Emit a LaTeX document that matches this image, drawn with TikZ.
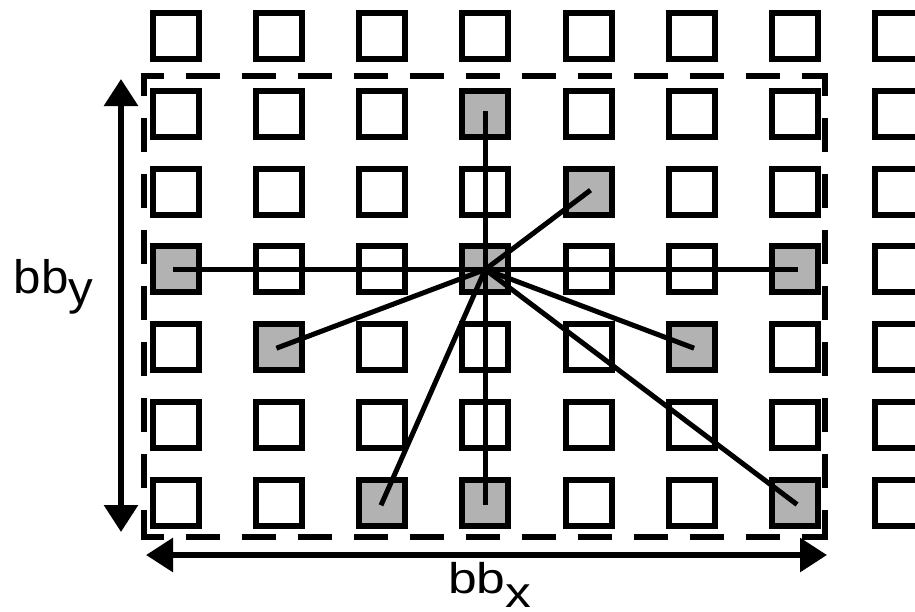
\documentclass[tikz,border=0pt]{standalone}
\usepackage{fontspec}
\setmainfont{Liberation Sans}
\usetikzlibrary{arrows.meta}
\definecolor{cellgray}{RGB}{178,178,178}
\begin{document}
\begin{tikzpicture}[x=1pt,y=-1pt,
  cell/.style={draw=black,line width=6pt,minimum width=46pt,minimum height=46pt,inner sep=0pt,outer sep=0pt},
  link/.style={line width=5pt,line cap=rect},
  bbline/.style={line width=6pt,line cap=rect,dash pattern=on 28pt off 28pt,dash phase=11pt},
  dimarrow/.style={line width=6pt,{Triangle[width=33pt,length=27pt]}-{Triangle[width=33pt,length=27pt]}},
  lab/.style={anchor=base west,inner sep=0pt}]
\useasboundingbox (0,0) rectangle (915,611);
\clip (0,0) rectangle (915,611);
% gray cells
\foreach \c/\r in {4/2,5/3,1/4,4/4,7/4,2/5,6/5,3/7,4/7,7/7}
  {\expandafter\gdef\csname hotcell\c-\r\endcsname{}}
% grid of cells
\foreach \c in {1,...,8} {
  \foreach \r in {1,...,7} {
    \ifcsname hotcell\c-\r\endcsname\def\fc{cellgray}\else\def\fc{white}\fi
    \node[cell,fill=\fc] (s-\c-\r) at ({175.5+103.25*(\c-1)},{36+77.83*(\r-1)}) {};
  }
}
% links from the centre cell
\foreach \c/\r in {4/2,5/3,1/4,7/4,2/5,6/5,3/7,4/7,7/7}
  \draw[link] (s-4-4.center) -- (s-\c-\r.center);
% dashed bounding box
\coordinate (bbnw) at (144,76);
\coordinate (bbne) at (825,76);
\coordinate (bbsw) at (144,537);
\coordinate (bbse) at (825,537);
\draw[bbline] (bbnw) -- (bbne);
\draw[bbline] (bbnw) -- (bbsw);
\draw[bbline] (bbsw) -- (bbse);
\draw[bbline] (bbne) -- (bbse);
% dimension arrows
\coordinate (ytop) at (121,79);
\coordinate (ybot) at (121,532);
\coordinate (xlft) at (146,555);
\coordinate (xrgt) at (827,555);
\draw[dimarrow] (ytop) -- (ybot);
\draw[dimarrow] (xlft) -- (xrgt);
% labels
\node[lab] (bby) at (13.5,293) {\scalebox{1.05}[1]{\fontsize{47}{50}\selectfont bb\raisebox{-11pt}{y}}};
\node[lab] (bbx) at (448,593) {\scalebox{1.2}[1]{\fontsize{43}{46}\selectfont bb\raisebox{-14pt}{x}}};
\end{tikzpicture}
\end{document}
